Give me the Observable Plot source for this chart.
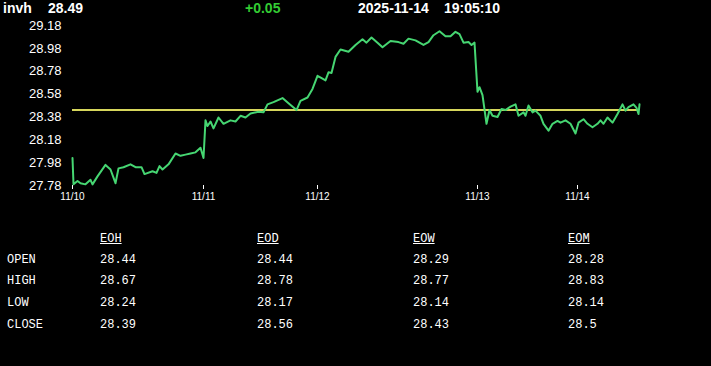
<!DOCTYPE html>
<html>
<head>
<meta charset="utf-8">
<script src="https://cdn.jsdelivr.net/npm/d3@7"></script>
<script src="https://cdn.jsdelivr.net/npm/@observablehq/plot@0.6"></script>
<style>
  html, body { margin: 0; padding: 0; background: #000; }
  body { width: 711px; height: 366px; overflow: hidden; position: relative; font-family: "Liberation Sans", Arial, sans-serif; }
  .hdr { position: absolute; top: 0; font-weight: bold; font-size: 14px; line-height: 16px; color: #fff; white-space: nowrap; }
  .tbl { position: absolute; font-family: "Liberation Mono", "DejaVu Sans Mono", monospace; font-size: 12px; line-height: 14px; color: #fff; white-space: nowrap; }
  #chart { position: absolute; left: 0; top: 0; }
</style>
</head>
<body>
<div id="chart"></div>
<div id="header"></div>
<div id="table"></div>
<script>
// ---- data ----
const symbol = "invh";
const lastPrice = "28.49";
const change = "+0.05";
const dateStr = "2025-11-14";
const timeStr = "19:05:10";

// bar index (trading samples since start) and price
const bars = [0,1,5,8,13,18,20,25,33,38,43,46,51,58,63,69,72,80,84,87,90,96,103,108,113,118,123,128,131,133,135,138,141,146,151,158,163,168,173,178,186,191,195,201,210,216,224,228,235,240,245,250,253,256,259,263,268,276,283,290,294,299,305,310,318,326,331,336,343,351,356,361,367,373,378,383,387,391,396,399,402,405,407,410,414,417,420,425,429,433,438,443,446,451,453,456,460,463,468,471,476,480,485,488,493,498,503,506,511,515,520,525,528,531,535,540,545,550,553,556,561,564,566,567];
const prices = [28.02,27.79,27.82,27.80,27.79,27.83,27.79,27.86,27.96,27.92,27.80,27.93,27.94,27.965,27.94,27.94,27.88,27.905,27.89,27.95,27.92,27.965,28.06,28.04,28.05,28.06,28.07,28.11,28.02,28.35,28.30,28.34,28.28,28.375,28.32,28.35,28.34,28.39,28.375,28.41,28.425,28.42,28.49,28.51,28.545,28.50,28.44,28.52,28.55,28.625,28.74,28.715,28.70,28.77,28.765,28.905,28.97,28.95,29.01,29.06,29.03,29.075,29.03,28.99,29.045,29.035,29.02,29.065,29.05,29.01,29.035,29.095,29.13,29.085,29.085,29.125,29.105,29.03,29.035,29.01,29.03,28.60,28.64,28.57,28.32,28.44,28.39,28.38,28.45,28.44,28.47,28.49,28.39,28.42,28.39,28.48,28.42,28.435,28.39,28.32,28.26,28.32,28.345,28.33,28.35,28.32,28.235,28.33,28.36,28.32,28.29,28.32,28.35,28.32,28.375,28.33,28.405,28.49,28.435,28.465,28.49,28.46,28.405,28.49];
const refLine = [28.44];

const yTicks = [27.78, 27.98, 28.18, 28.38, 28.58, 28.78, 28.98, 29.18];
const xTickBars = [0, 131, 245, 405, 505];
const xTickLabels = ["11/10", "11/11", "11/12", "11/13", "11/14"];
const lastBar = 567;

// table
const colNames = ["EOH", "EOD", "EOW", "EOM"];
const rowNames = ["OPEN", "HIGH", "LOW", "CLOSE"];
const openVals = ["28.44", "28.44", "28.29", "28.28"];
const highVals = ["28.67", "28.78", "28.77", "28.83"];
const lowVals = ["28.24", "28.17", "28.14", "28.14"];
const closeVals = ["28.39", "28.56", "28.43", "28.5"];

// ---- chart ----
const series = bars.map((b, i) => ({bar: b, price: prices[i]}));
const labelOf = new Map(xTickBars.map((b, i) => [b, xTickLabels[i]]));

const chart = Plot.plot({
  width: 711,
  height: 215,
  marginTop: 25,
  marginBottom: 30,
  marginLeft: 72,
  marginRight: 72,
  style: {background: "#000", color: "#fff", fontFamily: "'Liberation Sans', Arial, sans-serif", overflow: "visible"},
  x: {domain: [0, lastBar]},
  y: {domain: [27.78, 29.18]},
  marks: [
    Plot.axisY({ticks: yTicks, tickFormat: d => d.toFixed(2), tickSize: 0, tickPadding: 11, fontSize: 13, fill: "#fff", label: null}),
    Plot.axisX({ticks: xTickBars, tickFormat: d => labelOf.get(d), tickSize: 4, tickPadding: 3, fontSize: 10, stroke: "#fff", fill: "#fff", label: null}),
    Plot.ruleY(refLine, {stroke: "#d6d65c", strokeWidth: 2}),
    Plot.line(series, {x: "bar", y: "price", stroke: "#46d672", strokeWidth: 2, curve: "linear"})
  ]
});
document.getElementById("chart").appendChild(chart);

// ---- header ----
const header = document.getElementById("header");
[[symbol, 3, "#fff"], [lastPrice, 48, "#fff"], [change, 245, "#33cc33"], [dateStr, 358, "#fff"], [timeStr, 444, "#fff"]]
  .forEach(([t, x, c]) => {
    const d = document.createElement("div");
    d.className = "hdr"; d.textContent = t; d.style.left = x + "px"; d.style.color = c;
    header.appendChild(d);
  });

// ---- table ----
const table = document.getElementById("table");
const colX = [100, 257, 413, 568];
const rowTops = [253, 274, 296, 318];
const headTop = 231.5;
function cell(text, x, y, underline) {
  const d = document.createElement("div");
  d.className = "tbl"; d.textContent = text;
  d.style.left = x + "px"; d.style.top = y + "px";
  if (underline) d.style.textDecoration = "underline";
  table.appendChild(d);
}
colNames.forEach((n, j) => cell(n, colX[j], headTop, true));
const rows = [openVals, highVals, lowVals, closeVals];
rowNames.forEach((r, i) => {
  cell(r, 7, rowTops[i], false);
  rows[i].forEach((v, j) => cell(v, colX[j], rowTops[i], false));
});
</script>
</body>
</html>
